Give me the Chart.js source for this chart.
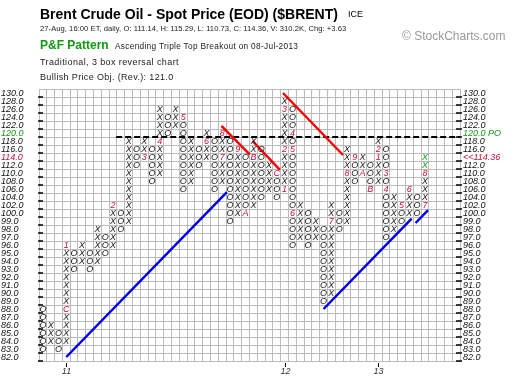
<!DOCTYPE html>
<html>
<head>
<meta charset="utf-8">
<script src="https://cdn.jsdelivr.net/npm/chart.js@4.4.0/dist/chart.umd.min.js"></script>
<style>
html, body { margin: 0; padding: 0; background: #fff; }
#wrap { position: relative; width: 520px; height: 386px; font-family: "Liberation Sans", Arial, sans-serif; }
#wrap div.t { position: absolute; white-space: nowrap; line-height: 1; }
canvas { position: absolute; left: 0; top: 0; }
</style>
</head>
<body>
<div id="wrap">
  <canvas id="pf" width="520" height="386"></canvas>
  <div class="t" style="left:40px;top:7px;font-size:14px;font-weight:bold;">Brent Crude Oil - Spot Price (EOD) ($BRENT)</div>
  <div class="t" style="left:348px;top:10px;font-size:9px;">ICE</div>
  <div class="t" style="left:40px;top:25px;font-size:7.6px;letter-spacing:0.05px;color:#222;">27-Aug, 16:00 ET, daily, O: 111.14, H: 115.29, L: 110.73, C: 114.36, V: 310.2K, Chg: +3.63</div>
  <div class="t" style="left:402px;top:30px;font-size:12px;color:#9a9a9a;">© StockCharts.com</div>
  <div class="t" style="left:40px;top:39px;font-size:12px;font-weight:bold;color:#119911;">P&amp;F Pattern</div>
  <div class="t" style="left:115px;top:42px;font-size:8.3px;letter-spacing:0.3px;color:#222;">Ascending Triple Top Breakout on 08-Jul-2013</div>
  <div class="t" style="left:40px;top:58px;font-size:9px;letter-spacing:0.4px;color:#222;">Traditional, 3 box reversal chart</div>
  <div class="t" style="left:40px;top:73px;font-size:9px;letter-spacing:0.35px;color:#222;">Bullish Price Obj. (Rev.): 121.0</div>
</div>
<script>
// box scale: $1 boxes up to 100, $2 boxes above
var boxPrices = [82, 83, 84, 85, 86, 87, 88, 89, 90, 91, 92, 93, 94, 95, 96, 97, 98, 99,
                 100, 102, 104, 106, 108, 110, 112, 114, 116, 118, 120, 122, 124, 126, 128, 130];
var boxLabels = boxPrices.map(function (p) { return p.toFixed(1); });

// one entry per column, left to right (O columns first)
var colType = "OXOXOXOXOXOXOXOXOXOXOXOXOXOXOXOXOXOXOXOXOXOXOXOXOX";
var colLow  = [83, 84, 83, 84, 93, 94, 93, 94, 95, 96,
               98, 99, 112, 114, 108, 110, 120, 122, 106, 108,
               112, 114, 106, 108, 99, 100, 100, 102, 104, 106,
               104, 106, 96, 97, 96, 97, 89, 90, 98, 99,
               108, 110, 106, 108, 97, 98, 99, 100, 100, 102];
var colHigh = [88, 86, 85, 96, 95, 96, 95, 98, 97, 102,
               100, 118, 116, 118, 116, 126, 124, 126, 124, 118,
               116, 120, 118, 120, 118, 116, 114, 118, 116, 112,
               110, 128, 126, 102, 100, 99, 98, 102, 100, 116,
               114, 114, 112, 118, 116, 104, 102, 106, 104, 114];

// month markers (1-9, A=Oct, B=Nov, C=Dec) replacing a box
var monthCol  = [3, 3, 9, 13, 15, 18, 21, 23, 23, 25, 26, 27, 30, 31, 31, 31, 32, 32, 32,
                 37, 39, 40, 41, 42, 43, 43, 44, 44, 46, 47, 49, 49];
var monthAt   = [88, 96, 102, 114, 118, 124, 118, 114, 120, 116, 100, 114, 110, 106, 116, 126, 120, 116, 100,
                 99, 110, 114, 110, 106, 114, 116, 110, 106, 102, 106, 102, 110];
var monthText = ['C', '1', '2', '3', '4', '5', '6', '7', '8', '9', 'A', 'B', 'C', '1', '2', '3', '4', '5', '6',
                 '7', '8', '9', 'A', 'B', '1', '2', '3', '4', '5', '6', '7', '8'];

// latest boxes (green)
var recentCol = [49, 49];
var recentAt  = [112, 114];

var yearText = ['11', '12', '13'];
var yearCol  = [3, 31, 43];

var objective = 120;
var lastBox = 114;
var lastClose = '114.36';

// trend lines, in column / box-row units
var bullLines = [[3, 0, 23.6, 20.6], [36, 6, 47.3, 17.3], [47.8, 16.75, 49.4, 18.35]];
var bearLines = [[22.9, 28.9, 26.55, 25.3], [26.9, 27, 30.4, 23.4], [30.8, 33, 38.5, 25.25]];
var poLine = [9.4, 53.5, 27.5];

var nCols = 54;
var red = '#c8103c';
var green = '#119911';

function rowOf(price) { return boxPrices.indexOf(price); }

var marked = {};
monthCol.forEach(function (c, i) { marked[c + ':' + monthAt[i]] = 1; });
recentCol.forEach(function (c, i) { marked[c + ':' + recentAt[i]] = 1; });

var xPts = [], oPts = [];
colType.split('').forEach(function (t, c) {
    for (var r = rowOf(colLow[c]); r <= rowOf(colHigh[c]); r++) {
        if (marked[c + ':' + boxPrices[r]]) continue;
        (t === 'X' ? xPts : oPts).push({x: c, y: r});
    }
});
var monthPts = monthCol.map(function (c, i) { return {x: c, y: rowOf(monthAt[i]), t: monthText[i]}; });
var greenPts = recentCol.map(function (c, i) { return {x: c, y: rowOf(recentAt[i])}; });

function lineSet(seg, color) {
    return {
        type: 'scatter', showLine: true, pointRadius: 0, borderColor: color, borderWidth: 2.5,
        data: [{x: seg[0], y: seg[1]}, {x: seg[2], y: seg[3]}]
    };
}

var datasets = [];
bullLines.forEach(function (s) { datasets.push(lineSet(s, '#0000ee')); });
bearLines.forEach(function (s) { datasets.push(lineSet(s, '#ff0000')); });
datasets.push({
    type: 'scatter', showLine: true, pointRadius: 0, borderColor: '#000', borderWidth: 2,
    borderDash: [6, 3], data: [{x: poLine[0], y: poLine[2]}, {x: poLine[1], y: poLine[2]}]
});
datasets.push({data: xPts, pointRadius: 0, glyph: 'X', glyphColor: '#1a1a1a'});
datasets.push({data: oPts, pointRadius: 0, glyph: 'O', glyphColor: '#1a1a1a'});
datasets.push({data: monthPts, pointRadius: 0, glyph: '?', glyphColor: red});
datasets.push({data: greenPts, pointRadius: 0, glyph: 'X', glyphColor: green});

var glyphPlugin = {
    id: 'glyphs',
    afterDatasetsDraw: function (chart) {
        var ctx = chart.ctx;
        ctx.save();
        ctx.font = 'italic 9px "Liberation Sans", Arial, sans-serif';
        ctx.textAlign = 'center';
        ctx.textBaseline = 'middle';
        chart.data.datasets.forEach(function (ds, i) {
            if (!ds.glyph) return;
            ctx.fillStyle = ds.glyphColor;
            chart.getDatasetMeta(i).data.forEach(function (el, j) {
                ctx.fillText(ds.data[j].t || ds.glyph, el.x, el.y + 0.5);
            });
        });
        ctx.restore();
    }
};

var axisPlugin = {
    id: 'pfAxes',
    afterDraw: function (chart) {
        var ctx = chart.ctx, a = chart.chartArea, xs = chart.scales.x, ys = chart.scales.y;
        ctx.save();
        ctx.font = 'italic 9px "Liberation Sans", Arial, sans-serif';
        ctx.textBaseline = 'middle';
        ctx.textAlign = 'left';
        ctx.strokeStyle = '#000';
        ctx.lineWidth = 1.5;
        boxLabels.forEach(function (lab, r) {
            var py = ys.getPixelForValue(r);
            var ty = Math.round(ys.getPixelForValue(r - 0.5));
            ctx.beginPath();
            ctx.moveTo(a.left - 1, ty); ctx.lineTo(a.left + 4, ty);
            ctx.moveTo(a.right - 4, ty); ctx.lineTo(a.right + 2, ty);
            ctx.stroke();
            var lc = '#111', rl = lab;
            if (boxPrices[r] === objective) { lc = green; rl = lab + ' PO'; }
            if (boxPrices[r] === lastBox) { lc = red; rl = '<<' + lastClose; }
            ctx.fillStyle = lc;
            ctx.fillText(lab, 1, py);
            ctx.fillText(rl, a.right + 3, py);
        });
        ctx.textAlign = 'center';
        ctx.fillStyle = '#333';
        ctx.lineWidth = 1;
        yearText.forEach(function (t, i) {
            var px = Math.round(xs.getPixelForValue(yearCol[i])) + 0.5;
            ctx.beginPath(); ctx.moveTo(px, a.bottom + 2); ctx.lineTo(px, a.bottom + 6); ctx.stroke();
            ctx.fillText(t, px, a.bottom + 10);
        });
        ctx.restore();
    }
};

function halfTicks(lo, hi) {
    return function (s) {
        s.ticks = [];
        for (var v = lo; v <= hi; v++) s.ticks.push({value: v});
    };
}

var gridOpts = {color: '#bbbbbb', lineWidth: 1, drawTicks: false};

new Chart(document.getElementById('pf'), {
    type: 'scatter',
    data: {datasets: datasets},
    options: {
        responsive: false,
        animation: false,
        events: [],
        layout: {padding: {left: 39, top: 89, right: 60, bottom: 25}},
        plugins: {legend: {display: false}, tooltip: {enabled: false}},
        scales: {
            x: {
                type: 'linear', min: -0.5, max: nCols - 0.5,
                grid: gridOpts, border: {display: false}, ticks: {display: false},
                afterBuildTicks: halfTicks(-0.5, nCols - 0.5)
            },
            y: {
                type: 'linear', min: -0.5, max: boxPrices.length - 0.5,
                grid: gridOpts, border: {display: false}, ticks: {display: false},
                afterBuildTicks: halfTicks(-0.5, boxPrices.length - 0.5)
            }
        }
    },
    plugins: [glyphPlugin, axisPlugin]
});
</script>
</body>
</html>
